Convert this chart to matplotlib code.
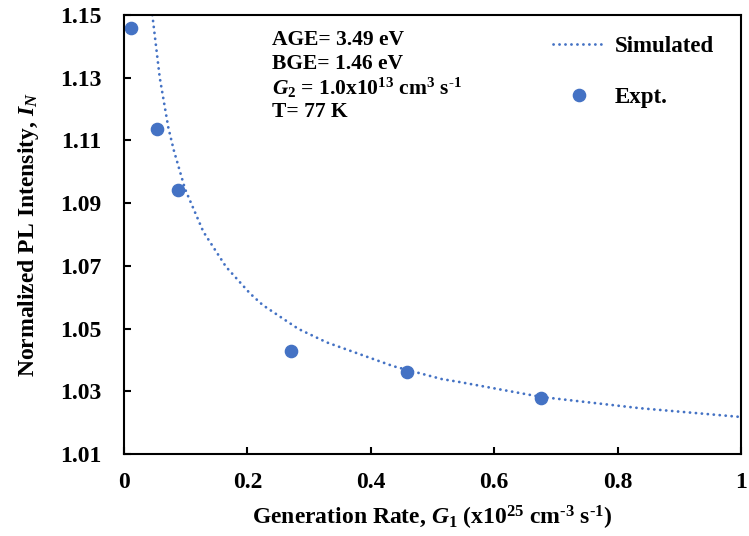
import matplotlib
matplotlib.use("Agg")
import matplotlib.pyplot as plt

plt.rcParams['font.family'] = ['Liberation Serif', 'DejaVu Serif']
plt.rcParams['font.weight'] = 'bold'
plt.rcParams['mathtext.fontset'] = 'custom'
plt.rcParams['mathtext.rm'] = 'Liberation Serif:bold'
plt.rcParams['mathtext.it'] = 'Liberation Serif:bold:italic'
plt.rcParams['mathtext.bf'] = 'Liberation Serif:bold'

# Simulated curve (generation rate in 1e25 cm^-3 s^-1, normalized PL intensity)
sim_x = [0.0459, 0.0579, 0.0718, 0.0806, 0.0989, 0.1285, 0.1653, 0.2042,
         0.2248, 0.2825, 0.3285, 0.4365, 0.5149, 0.5425, 0.676, 0.8363, 1.0]
sim_y = [1.150, 1.130, 1.1141, 1.1069, 1.0945, 1.0809, 1.0697, 1.0612,
         1.0575, 1.0499, 1.0456, 1.0380, 1.0339, 1.0330, 1.0282, 1.0246, 1.0218]

# Experimental points
exp_x = [0.011, 0.0535, 0.0875, 0.2707, 0.4587, 0.676]
exp_y = [1.1459, 1.1136, 1.0942, 1.0428, 1.0362, 1.0279]

x_ticks = [0, 0.2, 0.4, 0.6, 0.8, 1]
x_tick_labels = ['0', '0.2', '0.4', '0.6', '0.8', '1']
y_ticks = [1.01, 1.03, 1.05, 1.07, 1.09, 1.11, 1.13, 1.15]

blue = '#4472C4'
fs = 16.5

fig = plt.figure(figsize=(7.49, 5.36), dpi=100)
ax = fig.add_axes([0.1656, 0.153, 0.8237, 0.819])

ax.plot(sim_x, sim_y, linestyle=(0, (0.05, 2.1)), dash_capstyle='round',
        color=blue, linewidth=2.0, label='Simulated')
ax.plot(exp_x, exp_y, linestyle='none', marker='o', markersize=8.8,
        color=blue, label='Expt.')

ax.set_xlim(0, 1)
ax.set_ylim(1.01, 1.15)
ax.set_xticks(x_ticks)
ax.set_xticklabels(x_tick_labels)
ax.set_yticks(y_ticks)
ax.set_yticklabels([f'{v:.2f}' for v in y_ticks])

for s in ax.spines.values():
    s.set_linewidth(1.5)
    s.set_color('black')

ax.tick_params(axis='both', direction='in', length=5, width=1.5,
               labelsize=17, colors='black')
ax.tick_params(axis='y', pad=16)
ax.tick_params(axis='x', pad=13)

ax.set_ylabel('Normalized PL Intensity, $I_N$', fontsize=17,
              fontweight='bold', labelpad=14)
ax.set_xlabel(r'Generation Rate, $G_1$ (x10$^{25}$ cm$^{\text{-}3}$ s$^{\text{-}1}$)',
              fontsize=17, fontweight='bold', labelpad=8)

info = ['AGE= 3.49 eV', 'BGE= 1.46 eV',
        r'$G_2$ = 1.0x10$^{13}$ cm$^{3}$ s$^{\text{-}1}$', 'T= 77 K']
for i, line in enumerate(info):
    ax.text(0.24, 0.943 - i * 0.055, line, transform=ax.transAxes,
            fontsize=15.5, fontweight='bold', va='center', ha='left')

leg = ax.legend(loc='upper left', bbox_to_anchor=(0.695, 0.952), frameon=False,
                fontsize=fs, labelspacing=1.3, handlelength=2.25,
                handletextpad=0.45, borderpad=0, borderaxespad=0)
for t in leg.get_texts():
    t.set_fontweight('bold')

fig.savefig('out.png', dpi=100)
